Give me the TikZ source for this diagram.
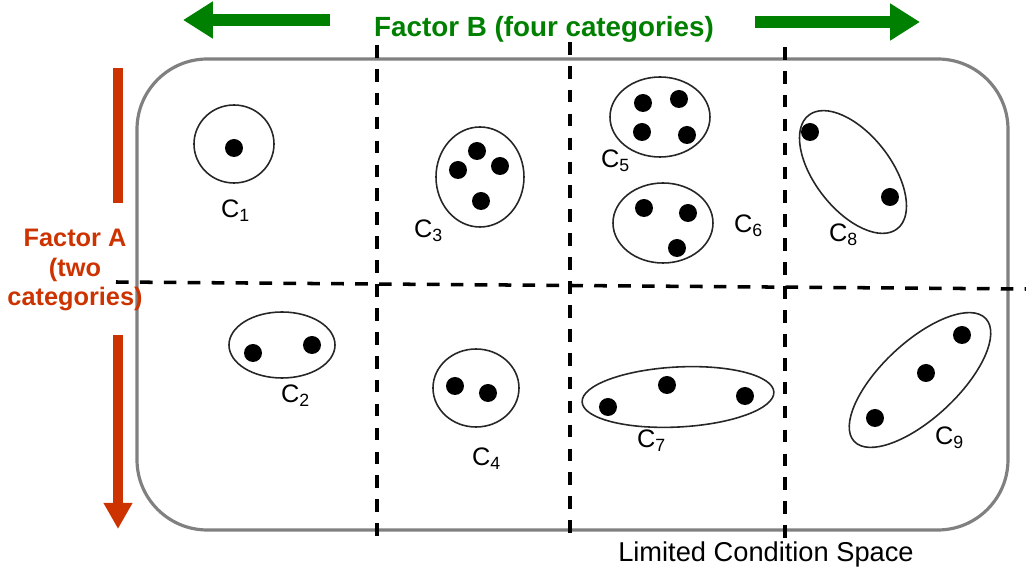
\documentclass[tikz,border=0pt]{standalone}
\usepackage{fontspec}
\setmainfont{Liberation Sans}
\usetikzlibrary{arrows.meta}
\definecolor{factorgreen}{RGB}{0,128,0}
\definecolor{factorred}{RGB}{204,51,0}
\definecolor{framegray}{RGB}{128,128,128}
\begin{document}
\begin{tikzpicture}[x=0.01cm, y=0.01cm,
    every node/.style={inner sep=0pt},
    divider/.style={black, line width=1pt, dash pattern=on 3.6pt off 3.2pt},
    cluster/.style={black!85, line width=0.45pt},
    clabel/.style={font=\fontsize{7.2}{8}\selectfont},
    greenarrow/.style={factorgreen, line width=3.4pt, -{Triangle[length=8.5pt,width=10pt]}},
    redarrow/.style={factorred, line width=2.8pt}]
        \useasboundingbox (0,0) rectangle (1026,-573);
        \draw [framegray, line width=0.9pt, rounded corners=20pt] (137,-59) rectangle (1008,-530);
        \draw [divider] (377,-45) -- (377,-545);
        \draw [divider] (570,-42) -- (570,-540);
        \draw [divider] (785,-47) -- (785,-545);
        \draw [divider] (116,-282) -- (1026,-289);
        \node (factorb) [factorgreen, font=\fontsize{7.9}{10}\selectfont\bfseries] at (544,-29) {Factor B (four categories)};
        \coordinate (bl) at (330,-20);
        \coordinate (bltip) at (183,-20);
        \coordinate (br) at (755,-22);
        \coordinate (brtip) at (920,-22);
        \draw [greenarrow] (bl) -- (bltip);
        \draw [greenarrow] (br) -- (brtip);
        \node (factora) [factorred, align=center, font=\fontsize{7.2}{8.3}\selectfont\bfseries] at (75,-270) {Factor A\\(two\\categories)};
        \coordinate (at) at (118,-68);
        \coordinate (am) at (118,-203);
        \coordinate (ab) at (118,-335);
        \coordinate (abtip) at (118,-529);
        \draw [redarrow] (at) -- (am);
        \draw [redarrow, -{Triangle[length=7.4pt,width=7.7pt]}] (ab) -- (abtip);
        \node (space) [font=\fontsize{7.75}{9}\selectfont] at (766,-554) {Limited Condition Space};
        \draw [cluster] (234,-144) ellipse (40 and 39);
        \fill (234,-148) circle (9);
        \node (c1) [clabel] at (236,-211) {C\textsubscript{1}};
        \draw [cluster] (282,-345) ellipse (53 and 33);
        \fill (253,-353) circle (9);
        \fill (312,-345) circle (9);
        \node (c2) [clabel] at (296,-396) {C\textsubscript{2}};
        \draw [cluster] (480,-177) ellipse (44 and 50);
        \fill (477,-151) circle (9);
        \fill (458,-170) circle (9);
        \fill (500,-166) circle (9);
        \fill (481,-201) circle (9);
        \node (c3) [clabel] at (429,-231) {C\textsubscript{3}};
        \draw [cluster] (476,-388) ellipse (43 and 39);
        \fill (455,-386) circle (9);
        \fill (488,-393) circle (9);
        \node (c4) [clabel] at (487,-459) {C\textsubscript{4}};
        \draw [cluster] (660,-117) ellipse (50 and 40);
        \fill (643,-103) circle (9);
        \fill (679,-99) circle (9);
        \fill (642,-132) circle (9);
        \fill (687,-135) circle (9);
        \node (c5) [clabel] at (616,-161) {C\textsubscript{5}};
        \draw [cluster] (663,-223) ellipse (50 and 40);
        \fill (644,-208) circle (9);
        \fill (688,-213) circle (9);
        \fill (677,-248) circle (9);
        \node (c6) [clabel] at (749,-226) {C\textsubscript{6}};
        \draw [cluster, rotate around={3:(678,-397)}] (678,-397) ellipse (96 and 30);
        \fill (608,-407) circle (9);
        \fill (667,-385) circle (9);
        \fill (745,-396) circle (9);
        \node (c7) [clabel] at (652,-441) {C\textsubscript{7}};
        \draw [cluster, rotate around={-52:(853,-172)}] (853,-172) ellipse (72 and 38);
        \fill (810,-132) circle (9);
        \fill (890,-197) circle (9);
        \node (c8) [clabel] at (844,-235) {C\textsubscript{8}};
        \draw [cluster, rotate around={43:(920,-380)}] (920,-380) ellipse (90 and 38);
        \fill (962,-335) circle (9);
        \fill (926,-373) circle (9);
        \fill (875,-418) circle (9);
        \node (c9) [clabel] at (950,-438) {C\textsubscript{9}};
\end{tikzpicture}
\end{document}
